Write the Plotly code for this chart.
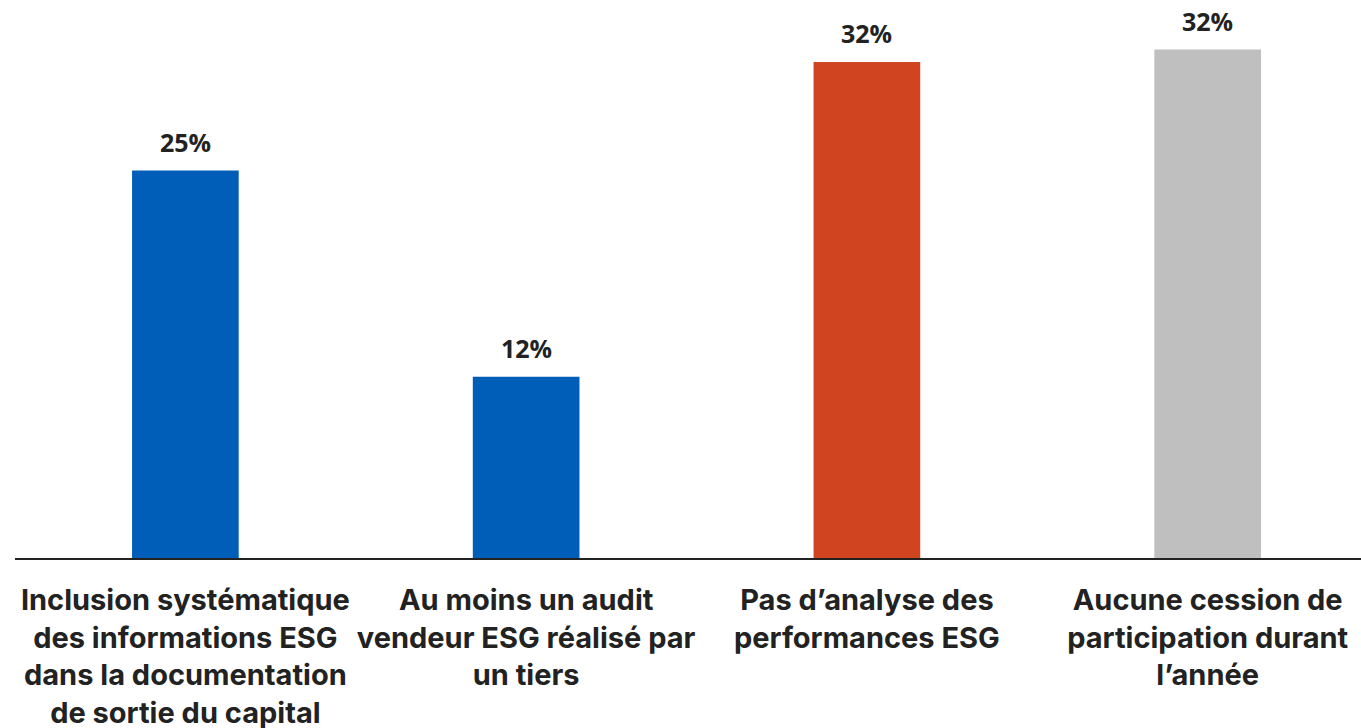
import plotly.graph_objects as go

categories = [
    "Inclusion systématique<br>des informations ESG<br>dans la documentation<br>de sortie du capital",
    "Au moins un audit<br>vendeur ESG réalisé par<br>un tiers",
    "Pas d’analyse des<br>performances ESG",
    "Aucune cession de<br>participation durant<br>l’année",
]
values = [25.0, 11.7, 32.0, 32.8]
value_labels = ["25%", "12%", "32%", "32%"]
colors = ["#005EB8", "#005EB8", "#D04520", "#BFBFBF"]

fig = go.Figure()
fig.add_trace(go.Bar(
    x=categories, y=values, marker_color=colors, width=0.313,
    marker_line_width=0, hoverinfo="skip",
))
for c, v, t in zip(categories, values, value_labels):
    fig.add_annotation(x=c, y=v, text=f"<b>{t}</b>", showarrow=False,
                       yanchor="bottom", yshift=10,
                       font=dict(family="Open Sans", size=25, color="#222222"))

fig.update_layout(
    width=1361, height=728,
    margin=dict(l=15, r=0, t=0, b=170, autoexpand=False),
    plot_bgcolor="white", paper_bgcolor="white",
    showlegend=False,
    xaxis=dict(range=[-0.5, 3.45], showline=True, linecolor="#222222", linewidth=2,
               ticks="", ticklabelstandoff=15, automargin=False,
               tickfont=dict(family="Inter", size=29, color="#222222", weight="bold")),
    yaxis=dict(range=[0, 36], visible=False, showgrid=False, automargin=False),
)
fig.write_html("out.html", config={"displayModeBar": False},
               post_script="document.body.style.margin='0';")
